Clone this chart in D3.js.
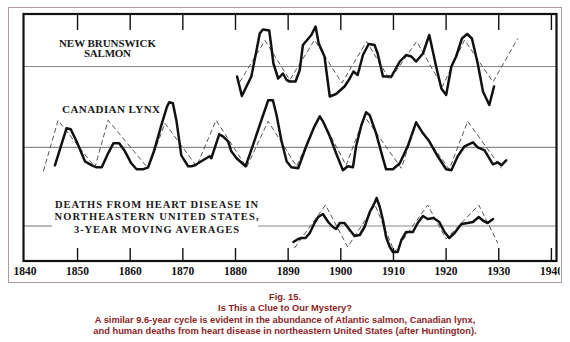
<!DOCTYPE html>
<html><head><meta charset="utf-8">
<script src="https://cdn.jsdelivr.net/npm/d3@7"></script>
<style>
html,body{margin:0;padding:0;background:#fff;}
svg{display:block;}
</style></head>
<body>
<svg id="c" width="570" height="342"></svg>
<script>
// ---- data (values = deviation from each series' mean line, arbitrary units) ----
const tickYears = [1840,1850,1860,1870,1880,1890,1900,1910,1920,1930,1940];

const salmonYears = [1880.4,1881.3,1883.1,1884.1,1884.7,1885.3,1886.5,1886.9,1887.3,1888.2,1889.1,1889.8,1890.4,1891.5,1892.3,1892.9,1894.5,1895.3,1895.9,1897.0,1898.0,1899.2,1900.8,1901.8,1902.5,1903.3,1904.3,1905.4,1906.5,1907.1,1908.1,1909.7,1911.3,1912.5,1913.5,1914.4,1915.7,1916.9,1918.2,1919.2,1920.1,1921.1,1922.0,1923.1,1924.1,1925.0,1926.1,1927.1,1928.3,1929.2];
const salmonValues = [-10,-29.5,-10,16.5,33,37,36,20,3,-12,-7,-13.5,-15,-15,-3.5,21.5,31.5,40,23,10,-30,-27.5,-20,-12,-5,-8.5,11.5,22.5,21.5,13,-10,-10,5,11.5,10,5,13,31.5,0,-22,-28.5,0,10,28,32.5,28,3,-25,-38.5,-20];
const salmonCycleYears = [1880.9,1885.7,1890.4,1895.1,1900.3,1905.0,1909.4,1914.5,1919.4,1923.6,1929.0,1933.7];
const salmonCycleValues = [-15.5,26,-13.5,26.5,-16.5,25,-13.5,25,-20,26.5,-15.5,28];

const lynxYears = [1845.8,1847.1,1848.0,1848.8,1849.9,1851.5,1852.8,1853.7,1854.7,1855.9,1856.9,1858.0,1859.1,1860.3,1861.3,1862.5,1863.5,1864.6,1866.0,1867.1,1867.5,1868.2,1868.9,1869.8,1871.1,1871.7,1872.4,1873.6,1875.2,1875.5,1877.0,1877.7,1878.7,1879.3,1880.3,1882.0,1883.4,1885.0,1886.3,1887.2,1887.9,1888.8,1889.8,1890.7,1892.0,1893.6,1895.1,1896.1,1896.7,1898.0,1899.2,1900.5,1901.4,1902.4,1903.0,1904.0,1904.9,1905.6,1906.8,1908.1,1908.7,1910.0,1911.3,1912.8,1914.4,1915.7,1916.9,1918.5,1920.1,1921.1,1922.3,1923.6,1925.2,1926.1,1927.4,1929.0,1929.9,1930.6,1931.5];
const lynxValues = [-18,4,19,18,6,-14,-18,-20,-20,-6,4,4,-4,-16,-22,-22,-20,-4,22,41,45,44,26,-8,-19,-19,-18,-14,-9,-11,13,11,6,-4,-11,-19,2,27,47,47,32,7,-14,-20,-21,2,21,31,26,11,-6,-23,-19,-20,1,22,35,32,14,-11,-22,-22,-16,1,25,14,6,-9,-22,-23,-9,1,5,0,-3,-17,-15,-18,-13];
const lynxCycleYears = [1843.6,1846.4,1853.4,1855.9,1863.5,1866.7,1872.7,1876.4,1882.2,1886.3,1891.7,1896.1,1901.1,1904.6,1911.6,1914.4,1920.7,1924.2,1930.6];
const lynxCycleValues = [-24,27,-20,27,-21,24,-19,27,-20,26,-19,32,-18,31,-21,24,-22,26,-21];

const heartYears = [1891.1,1892.0,1892.6,1893.4,1894.2,1895.1,1895.8,1896.7,1897.7,1898.6,1899.2,1899.9,1900.8,1901.8,1902.7,1903.7,1904.6,1905.6,1906.5,1906.9,1907.5,1908.1,1908.7,1909.4,1910.0,1910.9,1911.6,1912.5,1913.8,1914.7,1915.7,1916.6,1917.7,1918.8,1919.8,1920.7,1921.7,1923.0,1924.2,1925.2,1926.3,1927.2,1928.0,1929.0];
const heartValues = [-16,-13,-12,-12,-7,3,9,12,4,-1,-3,3,3,-4,-10,-9,-1,14,23,28,19,6,-11,-21,-26,-26,-14,-6,-6,3,10,7,8,4,-6,-12,-7,2,3,4,9,5,3,7];
const heartCycleYears = [1891.3,1897.2,1901.4,1906.6,1910.3,1916.6,1920.1,1926.3,1929.9];
const heartCycleValues = [-22,21,-21,21,-26,21,-13,21,-17];

const salmonLabel = ["NEW BRUNSWICK","SALMON"];
const lynxLabel = ["CANADIAN LYNX"];
const heartLabel = ["DEATHS FROM HEART DISEASE IN","NORTHEASTERN UNITED STATES,","3-YEAR MOVING AVERAGES"];
const caption = ["Fig. 15.","Is This a Clue to Our Mystery?","A similar 9.6-year cycle is evident in the abundance of Atlantic salmon, Canadian lynx,","and human deaths from heart disease in northeastern United States (after Huntington)."];

// ---- layout ----
const svg = d3.select("#c");
const frame = {l:23.5, t:14, r:556.5, b:261};
const x = d3.scaleLinear().domain([1840,1940]).range([24.4,550.9]);

const bands = [
  {base:66.5, years:salmonYears, vals:salmonValues, cy:salmonCycleYears, cv:salmonCycleValues},
  {base:147.3, years:lynxYears, vals:lynxValues, cy:lynxCycleYears, cv:lynxCycleValues},
  {base:226, years:heartYears, vals:heartValues, cy:heartCycleYears, cv:heartCycleValues}
];

// outer border
svg.append("rect").attr("x",8.5).attr("y",7.5).attr("width",553).attr("height",275)
  .attr("fill","none").attr("stroke","#b39a9a").attr("stroke-width",1);

// baselines
bands.forEach((b,i)=>{
  const segs = i===2 ? [[frame.l,52],[258,frame.r]] : [[frame.l,frame.r]];
  segs.forEach(s=>{
    svg.append("line").attr("x1",s[0]).attr("x2",s[1]).attr("y1",b.base).attr("y2",b.base)
      .attr("stroke","#8a8a8a").attr("stroke-width",1.2);
  });
});

// series
bands.forEach(b=>{
  const y = d3.scaleLinear().domain([-40,40]).range([b.base+40,b.base-40]);
  const line = d3.line().x(d=>x(d[0])).y(d=>y(d[1]));
  svg.append("path").datum(d3.zip(b.cy,b.cv)).attr("d",line)
    .attr("fill","none").attr("stroke","#555").attr("stroke-width",1)
    .attr("stroke-dasharray","5,3");
  svg.append("path").datum(d3.zip(b.years,b.vals)).attr("d",line)
    .attr("fill","none").attr("stroke","#111").attr("stroke-width",2.5)
    .attr("stroke-linejoin","round").attr("stroke-linecap","round");
});

// axes
svg.append("clipPath").attr("id","clipTick").append("rect").attr("x",-20).attr("y",0).attr("width",28.5).attr("height",30);
const inner = tickYears.filter(d=>d>1840);
const axB = svg.append("g").attr("transform",`translate(0,${frame.b})`)
  .call(d3.axisBottom(x).tickValues(tickYears).tickSizeInner(-13).tickSizeOuter(0).tickPadding(6).tickFormat(d3.format("d")));
axB.select(".domain").remove();
axB.selectAll(".tick line").attr("stroke","#111").attr("stroke-width",1.4).filter(d=>d===1840).remove();
axB.selectAll(".tick text").attr("font-family","'Liberation Serif',serif").attr("font-weight","bold")
  .attr("font-size",11.5).attr("fill","#111");
axB.selectAll(".tick").filter(d=>d===1940).select("text").attr("clip-path","url(#clipTick)");

const axT = svg.append("g").attr("transform",`translate(0,${frame.t})`)
  .call(d3.axisTop(x).tickValues(inner).tickSizeInner(-16).tickSizeOuter(0).tickFormat(""));
axT.select(".domain").remove();
axT.selectAll(".tick line").attr("stroke","#111").attr("stroke-width",1.4);

// frame
svg.append("rect").attr("x",frame.l).attr("y",frame.t).attr("width",frame.r-frame.l).attr("height",frame.b-frame.t)
  .attr("fill","none").attr("stroke","#111").attr("stroke-width",2.2);

// labels
function label(lines, cx, baselines, widths, size){
  lines.forEach((t,i)=>{
    svg.append("text").attr("x",cx).attr("y",baselines[i]).attr("text-anchor","middle")
      .attr("font-family","'Liberation Serif',serif").attr("font-weight","bold")
      .attr("font-size",size).attr("fill","#1a1a1a")
      .attr("textLength",widths[i]).attr("lengthAdjust","spacing").text(t);
  });
}
label(salmonLabel, 107.5, [46.5,57.3], [97,47], 11);
label(lynxLabel, 111, [113.3], [98], 11);
label(heartLabel, 156.5, [207.5,220,232.7], [203,204,165], 10.5);

// caption
const capY = [300,311.3,322.6,333.8];
caption.forEach((t,i)=>{
  svg.append("text").attr("x",285).attr("y",capY[i]).attr("text-anchor","middle")
    .attr("font-family","'Liberation Sans',Arial,sans-serif").attr("font-weight","bold")
    .attr("font-size",9.3).attr("fill","#8b1e26").text(t);
});
</script>
</body></html>
